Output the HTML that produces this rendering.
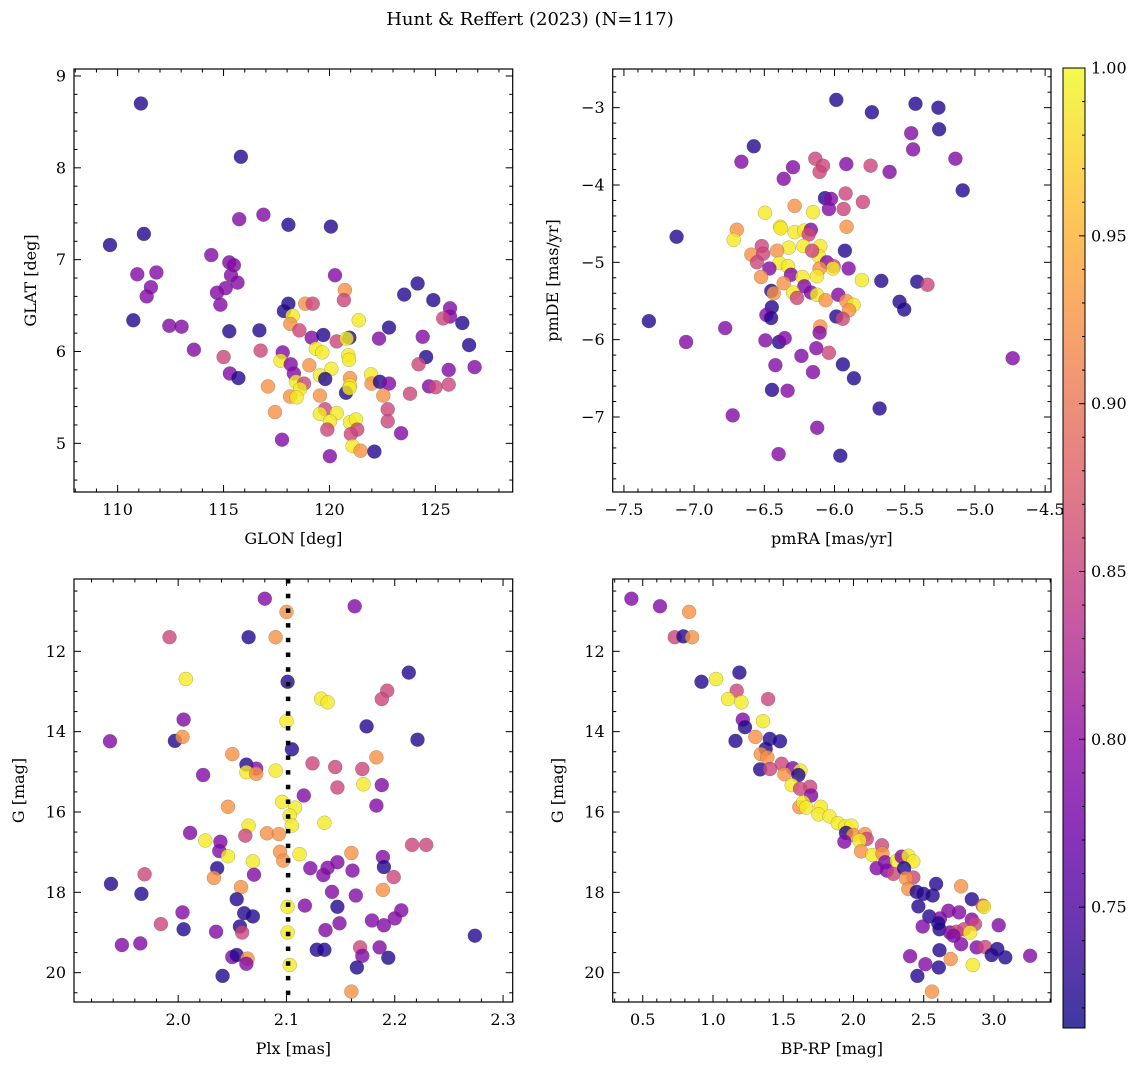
<!DOCTYPE html>
<html><head><meta charset="utf-8"><style>
html,body{margin:0;padding:0;background:#fff;}
svg{display:block;font-family:"DejaVu Serif","Liberation Serif",serif;}
</style></head><body>
<svg id="fig" width="1148" height="1068" viewBox="0 0 1148 1068" xmlns="http://www.w3.org/2000/svg">
<defs><linearGradient id="cbgrad" x1="0" y1="1" x2="0" y2="0"></linearGradient></defs>
<text x="530" y="25" text-anchor="middle" font-size="18">Hunt &amp; Reffert (2023) (N=117)</text>
</svg>
<script>
// ---- Panel 1: GLON / GLAT ----
const glon=[111.10,115.82,115.74,116.88,118.06,120.07,111.24,109.64,114.42,115.27,115.49,115.35,115.66,115.10,114.69,114.85,110.93,111.83,111.57,111.37,110.74,112.44,113.02,113.60,115.27,115.00,115.30,115.70,116.69,116.75,120.26,120.73,120.68,118.86,119.21,118.06,117.85,118.26,118.15,118.58,119.16,119.71,120.34,120.94,120.81,121.38,117.79,117.69,118.17,118.32,119.05,119.36,119.66,120.09,120.89,120.92,119.55,119.80,118.42,118.80,118.61,118.14,118.45,117.10,117.43,119.55,120.97,120.97,120.78,120.94,121.96,121.99,122.38,122.81,122.54,122.81,122.34,123.53,124.16,124.90,125.69,125.69,125.37,126.27,126.59,124.40,124.56,124.21,125.63,126.85,123.80,124.70,125.01,125.63,122.75,122.75,123.38,119.79,119.55,120.34,120.02,119.90,120.97,121.25,121.31,121.01,121.09,121.47,122.12,120.02,117.76];
const glat=[8.70,8.12,7.44,7.49,7.38,7.36,7.28,7.16,7.05,6.97,6.94,6.83,6.75,6.69,6.64,6.51,6.84,6.86,6.70,6.60,6.34,6.28,6.27,6.02,6.22,5.94,5.76,5.71,6.23,6.01,6.83,6.67,6.56,6.52,6.52,6.52,6.44,6.39,6.30,6.23,6.15,6.18,6.11,6.15,6.14,6.34,5.99,5.90,5.86,5.76,5.85,6.03,5.99,5.81,5.96,5.91,5.74,5.70,5.67,5.65,5.59,5.51,5.50,5.62,5.34,5.52,5.71,5.63,5.55,5.60,5.75,5.65,5.67,5.65,5.52,6.26,6.14,6.62,6.74,6.56,6.47,6.38,6.36,6.31,6.07,6.16,5.94,5.86,5.80,5.83,5.54,5.62,5.61,5.64,5.37,5.24,5.11,5.37,5.32,5.33,5.24,5.15,5.23,5.26,5.15,5.10,4.97,4.92,4.91,4.86,5.04];
const prob1=[.725,.725,.79,.79,.725,.725,.725,.725,.79,.79,.79,.79,.79,.79,.79,.79,.79,.79,.79,.79,.725,.79,.79,.79,.725,.855,.79,.725,.725,.855,.79,.925,.855,.925,.855,.725,.725,.99,.925,.855,.79,.725,.855,.725,.99,.99,.79,.99,.79,.79,.925,.99,.99,.99,.99,.99,.99,.725,.99,.855,.99,.925,.99,.925,.925,.925,.925,.99,.725,.99,.99,.925,.725,.79,.925,.725,.79,.725,.725,.725,.79,.79,.855,.725,.725,.79,.725,.855,.79,.79,.855,.79,.855,.855,.855,.855,.79,.855,.99,.99,.99,.855,.99,.99,.855,.855,.99,.925,.725,.79,.79];
// ---- Panel 2: pmRA / pmDE ----
const pmra=[-5.987,-5.423,-5.26,-5.734,-5.255,-5.454,-5.44,-6.575,-6.663,-6.137,-6.082,-6.106,-5.916,-5.743,-5.608,-5.139,-6.296,-6.362,-5.087,-5.921,-6.068,-6.025,-6.04,-5.935,-5.798,-6.284,-6.495,-6.153,-5.914,-6.386,-6.383,-6.696,-6.718,-7.125,-6.284,-6.215,-6.168,-6.184,-6.518,-6.326,-6.222,-6.101,-5.926,-6.592,-6.509,-6.409,-6.552,-6.393,-6.331,-6.113,-6.16,-6.054,-6.006,-6.011,-6.106,-5.9,-6.464,-6.523,-6.31,-6.229,-6.125,-5.805,-5.667,-5.411,-5.338,-6.362,-6.215,-6.45,-6.433,-6.296,-6.267,-6.168,-6.125,-6.063,-5.973,-5.916,-5.864,-5.897,-5.537,-5.504,-6.447,-6.485,-6.452,-5.987,-5.942,-6.101,-6.106,-7.322,-6.779,-7.057,-6.492,-6.395,-6.355,-6.13,-6.04,-6.236,-6.421,-5.94,-6.153,-5.862,-6.445,-6.334,-4.731,-5.679,-6.725,-6.123,-6.398,-5.959];
const pmde=[-2.90,-2.95,-3.00,-3.06,-3.28,-3.33,-3.54,-3.50,-3.70,-3.66,-3.75,-3.83,-3.73,-3.75,-3.83,-3.66,-3.77,-3.92,-4.07,-4.11,-4.17,-4.18,-4.31,-4.31,-4.22,-4.27,-4.36,-4.35,-4.54,-4.54,-4.56,-4.58,-4.71,-4.67,-4.61,-4.59,-4.58,-4.64,-4.79,-4.81,-4.79,-4.79,-4.85,-4.90,-4.89,-4.85,-5.00,-5.01,-5.05,-4.92,-4.85,-5.00,-5.05,-5.08,-5.08,-5.08,-5.08,-5.19,-5.16,-5.19,-5.18,-5.23,-5.24,-5.25,-5.29,-5.27,-5.31,-5.37,-5.40,-5.39,-5.46,-5.39,-5.42,-5.49,-5.42,-5.50,-5.55,-5.62,-5.51,-5.61,-5.58,-5.68,-5.72,-5.70,-5.73,-5.83,-5.91,-5.76,-5.85,-6.03,-6.01,-6.03,-5.98,-6.11,-6.17,-6.21,-6.33,-6.32,-6.42,-6.50,-6.65,-6.66,-6.24,-6.89,-6.98,-7.14,-7.48,-7.50];
const prob2=[.725,.725,.725,.725,.725,.79,.79,.725,.79,.855,.855,.855,.79,.855,.79,.79,.79,.79,.725,.855,.725,.79,.79,.855,.855,.925,.99,.99,.925,.99,.99,.925,.99,.725,.99,.99,.79,.855,.855,.99,.99,.99,.725,.925,.855,.925,.855,.99,.99,.99,.855,.79,.855,.99,.925,.79,.79,.925,.79,.99,.99,.99,.725,.725,.855,.925,.79,.725,.925,.99,.855,.79,.99,.925,.79,.925,.99,.925,.725,.725,.725,.79,.725,.725,.855,.925,.79,.725,.79,.79,.79,.725,.79,.79,.855,.79,.79,.725,.79,.725,.725,.79,.79,.725,.79,.79,.79,.725];
// ---- Panel 3: Plx / G ----
const plx=[2.080,2.163,2.100,1.992,2.065,2.090,2.007,2.101,2.213,2.193,2.188,2.132,2.138,2.005,2.100,2.174,1.937,1.997,2.004,2.221,2.105,2.050,2.183,2.124,2.145,2.170,2.063,2.072,2.063,2.072,2.090,2.023,2.171,2.188,2.147,2.116,2.183,2.046,2.096,2.108,2.103,2.105,2.065,2.135,2.011,2.025,2.039,2.038,2.062,2.082,2.093,2.094,2.097,2.112,2.046,2.069,2.160,2.189,2.190,2.216,2.229,2.147,2.138,2.122,2.134,2.161,2.199,2.036,2.033,2.070,1.969,1.938,1.966,2.058,2.054,2.142,2.164,2.189,2.101,2.117,2.147,2.004,2.061,2.069,2.206,2.200,2.179,2.190,2.149,1.984,2.005,2.035,2.057,2.059,2.101,2.136,2.274,1.948,1.965,2.128,2.135,2.168,2.186,2.170,2.194,2.050,2.054,2.064,2.063,2.103,2.165,2.041,2.160];
const gmag3=[10.69,10.88,11.02,11.65,11.65,11.65,12.69,12.76,12.53,12.98,13.19,13.18,13.27,13.70,13.74,13.87,14.24,14.23,14.13,14.20,14.44,14.56,14.64,14.79,14.88,14.93,14.82,14.92,15.01,15.05,14.97,15.08,15.31,15.33,15.39,15.59,15.84,15.87,15.75,15.89,16.09,16.34,16.34,16.27,16.52,16.71,16.74,16.97,16.59,16.53,16.55,16.99,17.21,17.05,17.10,17.23,17.02,17.12,17.37,16.82,16.82,17.25,17.39,17.40,17.57,17.46,17.62,17.40,17.64,17.56,17.55,17.79,18.04,17.87,18.17,17.99,18.08,17.94,18.36,18.33,18.36,18.50,18.52,18.60,18.45,18.65,18.70,18.82,18.77,18.79,18.92,18.98,18.85,19.00,19.00,18.94,19.08,19.31,19.27,19.43,19.43,19.37,19.37,19.58,19.63,19.61,19.56,19.65,19.78,19.81,19.87,20.08,20.47];
const prob3=[.79,.79,.925,.855,.725,.925,.99,.725,.725,.855,.855,.99,.99,.79,.99,.725,.79,.725,.925,.725,.725,.925,.925,.855,.855,.855,.725,.79,.99,.925,.99,.79,.99,.79,.855,.79,.79,.925,.99,.99,.99,.99,.99,.99,.79,.99,.79,.79,.855,.925,.925,.925,.925,.99,.99,.99,.925,.79,.725,.855,.855,.79,.79,.79,.79,.79,.855,.725,.925,.79,.855,.725,.725,.925,.725,.79,.79,.925,.99,.79,.725,.79,.725,.725,.79,.79,.79,.79,.79,.855,.725,.79,.725,.855,.99,.79,.725,.79,.79,.725,.725,.855,.79,.79,.725,.79,.725,.925,.79,.99,.725,.725,.925];
// ---- Panel 4: BP-RP / G ----
const bprp=[0.419,0.623,0.830,0.728,0.789,0.851,1.022,0.918,1.188,1.169,1.392,1.107,1.202,1.212,1.356,1.228,1.160,1.302,1.404,1.477,1.375,1.340,1.387,1.489,1.335,1.406,1.568,1.508,1.622,1.608,1.560,1.691,1.620,1.698,1.615,1.641,1.663,1.767,1.750,1.829,1.888,1.940,1.985,1.947,1.999,2.082,2.094,2.042,1.935,2.054,2.135,2.203,2.206,2.225,2.165,2.237,2.284,2.308,2.343,2.391,2.426,2.360,2.426,2.374,2.391,2.450,2.498,2.564,2.588,2.766,2.842,2.920,2.929,2.462,2.540,2.676,2.752,2.616,2.842,2.865,2.493,2.604,2.612,2.687,2.735,2.787,2.830,2.711,2.766,3.034,2.877,2.937,3.024,2.984,3.081,3.257,2.612,2.403,2.692,2.512,2.607,2.849,2.455,2.559];
const gmag4=[10.69,10.88,11.02,11.65,11.63,11.65,12.69,12.76,12.53,12.98,13.19,13.19,13.27,13.70,13.74,13.89,14.23,14.13,14.18,14.24,14.43,14.56,14.64,14.80,14.94,14.93,14.91,15.06,14.97,15.08,15.33,15.37,15.42,15.59,15.88,15.76,15.89,15.87,16.06,16.11,16.28,16.36,16.34,16.52,16.57,16.55,16.67,16.71,16.74,16.98,17.07,16.83,17.03,17.25,17.40,17.46,17.54,17.21,17.11,17.09,17.23,17.40,17.63,17.65,17.92,17.99,18.04,18.08,17.79,17.85,18.17,18.33,18.36,18.35,18.60,18.46,18.50,18.65,18.68,18.79,18.85,18.77,18.92,19.00,18.98,18.92,19.00,19.08,19.29,18.82,19.37,19.36,19.41,19.56,19.62,19.58,19.44,19.59,19.66,19.79,19.87,19.81,20.08,20.47];
const prob4=[.79,.79,.925,.855,.725,.925,.99,.725,.725,.855,.855,.99,.99,.79,.99,.725,.725,.925,.725,.725,.725,.925,.925,.855,.725,.855,.79,.925,.99,.725,.99,.855,.855,.79,.925,.99,.99,.99,.99,.99,.99,.99,.99,.725,.925,.925,.855,.99,.79,.925,.99,.855,.925,.79,.79,.79,.855,.99,.79,.99,.99,.725,.855,.925,.925,.725,.725,.725,.725,.925,.725,.855,.99,.725,.725,.79,.79,.79,.79,.855,.79,.725,.725,.79,.855,.855,.99,.79,.79,.79,.79,.855,.725,.725,.725,.79,.725,.79,.925,.79,.725,.99,.725,.925];
const cbTicks=[0.75,0.80,0.85,0.90,0.95,1.00];
const pmin=0.714, pmax=1.0, plxMean=2.1015;

const NS='http://www.w3.org/2000/svg';
const svg=document.getElementById('fig');
function mk(tag,attrs,parent){const e=document.createElementNS(NS,tag);for(const k in attrs)e.setAttribute(k,attrs[k]);(parent||svg).appendChild(e);return e;}
const plasmaStops=[[0,'#0d0887'],[0.1,'#41049d'],[0.2,'#6a00a8'],[0.3,'#8f0da4'],[0.4,'#b12a90'],[0.5,'#cc4778'],[0.6,'#e16462'],[0.7,'#f2844b'],[0.8,'#fca636'],[0.9,'#fcce25'],[1,'#f0f921']];
function hex(h){return [1,3,5].map(i=>parseInt(h.substr(i,2),16));}
function plasma(t){t=Math.max(0,Math.min(1,t));for(let i=1;i<plasmaStops.length;i++){if(t<=plasmaStops[i][0]){const a=plasmaStops[i-1],b=plasmaStops[i];const f=(t-a[0])/(b[0]-a[0]);const ca=hex(a[1]),cb=hex(b[1]);return 'rgb('+ca.map((v,j)=>Math.round(v+(cb[j]-v)*f)).join(',')+')';}}return plasmaStops[10][1];}
function pcol(p){return plasma((p-pmin)/(pmax-pmin));}

function fmt(v,d){let s=v.toFixed(d);return v<0?'\u2212'+s.slice(1):s;}

function panel(cfg){
  const g=mk('g',{});
  
  
  const {x0,x1,y0,y1,xmin,xmax,ymin,ymax,inv}=cfg;
  const sx=v=>x0+(v-xmin)/(xmax-xmin)*(x1-x0);
  const sy=v=>inv? y0+(v-ymin)/(ymax-ymin)*(y1-y0) : y1-(v-ymin)/(ymax-ymin)*(y1-y0);
  for(let i=0;i<cfg.xs.length;i++){
    const c=mk('circle',{cx:sx(cfg.xs[i]).toFixed(1),cy:sy(cfg.ys[i]).toFixed(1),r:7,fill:pcol(cfg.ps[i]),'fill-opacity':0.8,stroke:'#444','stroke-opacity':0.5,'stroke-width':0.4},g);
    
    
  }
  if(cfg.vline!==undefined){
    const l=mk('line',{x1:sx(cfg.vline),x2:sx(cfg.vline),y1:y0,y2:y1,stroke:'#000','stroke-width':4.5,'stroke-dasharray':'4.5 10.2'},g);
    
    
  }
  const fr=mk('rect',{x:x0,y:y0,width:x1-x0,height:y1-y0,fill:'none',stroke:'#000','stroke-width':1.2},g);
  
  
  const eps=1e-9;
  for(let v=Math.ceil(xmin/cfg.xminor-eps)*cfg.xminor; v<=xmax+eps; v+=cfg.xminor){
    const isMaj=Math.abs(v/cfg.xmajor-Math.round(v/cfg.xmajor))<1e-6;
    const L=isMaj?7:3.5, X=sx(v);
    mk('line',{x1:X,x2:X,y1:y1,y2:y1-L,stroke:'#000','stroke-width':1},g);
    mk('line',{x1:X,x2:X,y1:y0,y2:y0+L,stroke:'#000','stroke-width':1},g);
    if(isMaj){const t=mk('text',{x:X,y:y1+23,'text-anchor':'middle','font-size':16},g);t.textContent=fmt(v,cfg.xdec);
      }
  }
  for(let v=Math.ceil(Math.min(ymin,ymax)/cfg.yminor-eps)*cfg.yminor; v<=Math.max(ymin,ymax)+eps; v+=cfg.yminor){
    const isMaj=Math.abs(v/cfg.ymajor-Math.round(v/cfg.ymajor))<1e-6;
    const L=isMaj?7:3.5, Y=sy(v);
    mk('line',{x1:x0,x2:x0+L,y1:Y,y2:Y,stroke:'#000','stroke-width':1},g);
    mk('line',{x1:x1,x2:x1-L,y1:Y,y2:Y,stroke:'#000','stroke-width':1},g);
    if(isMaj){const t=mk('text',{x:x0-8,y:Y+5.5,'text-anchor':'end','font-size':16},g);t.textContent=fmt(v,cfg.ydec);
      }
  }
  const xl=mk('text',{x:(x0+x1)/2,y:y1+52,'text-anchor':'middle','font-size':16},g);xl.textContent=cfg.xlabel;
  
  const yx=cfg.ylx, yy=(y0+y1)/2;
  const yl=mk('text',{x:yx,y:yy,'text-anchor':'middle','font-size':16,transform:'rotate(-90 '+yx+' '+yy+')'},g);yl.textContent=cfg.ylabel;
  
}
panel({name:'glon-glat-panel',x0:74,x1:512.7,y0:69,y1:492,xmin:107.94,xmax:128.65,ymin:4.47,ymax:9.076,xs:glon,ys:glat,ps:prob1,xmajor:5,xminor:1,ymajor:1,yminor:0.2,xdec:0,ydec:0,xlabel:'GLON [deg]',ylabel:'GLAT [deg]',ylx:36});
panel({name:'proper-motion-panel',x0:612.7,x1:1051,y0:69,y1:492,xmin:-7.58,xmax:-4.458,ymin:-7.97,ymax:-2.5,xs:pmra,ys:pmde,ps:prob2,xmajor:0.5,xminor:0.1,ymajor:1,yminor:0.2,xdec:1,ydec:0,xlabel:'pmRA [mas/yr]',ylabel:'pmDE [mas/yr]',ylx:558});
panel({name:'parallax-mag-panel',x0:74,x1:512.7,y0:579,y1:1002,xmin:1.9038,xmax:2.3089,ymin:10.2,ymax:20.73,inv:true,xs:plx,ys:gmag3,ps:prob3,xmajor:0.1,xminor:0.02,ymajor:2,yminor:0.5,xdec:1,ydec:0,xlabel:'Plx [mas]',ylabel:'G [mag]',ylx:24,vline:plxMean});
panel({name:'color-magnitude-panel',x0:612.7,x1:1051,y0:579,y1:1002,xmin:0.286,xmax:3.406,ymin:10.2,ymax:20.73,inv:true,xs:bprp,ys:gmag4,ps:prob4,xmajor:0.5,xminor:0.1,ymajor:2,yminor:0.5,xdec:1,ydec:0,xlabel:'BP-RP [mag]',ylabel:'G [mag]',ylx:563});

const grad=document.getElementById('cbgrad');
for(let i=0;i<=20;i++){mk('stop',{offset:i/20,'stop-color':plasma(i/20),'stop-opacity':0.8},grad);}
const cbx0=1063,cbx1=1085,cby0=68,cby1=1028;
const cb=mk('rect',{x:cbx0,y:cby0,width:cbx1-cbx0,height:cby1-cby0,fill:'url(#cbgrad)',stroke:'#000','stroke-width':1});


const cy=v=>cby1-(v-pmin)/(pmax-pmin)*(cby1-cby0);
for(let v=0.72; v<=1.0001; v+=0.01){
  const maj=Math.abs(v*20-Math.round(v*20))<1e-6;
  mk('line',{x1:cbx1,x2:cbx1-(maj?6:3),y1:cy(v),y2:cy(v),stroke:'#000','stroke-width':1});
}
cbTicks.forEach(v=>{const t=mk('text',{x:1091,y:cy(v)+5.5,'font-size':16});t.textContent=v.toFixed(2);
  
  });
</script>
</body></html>
